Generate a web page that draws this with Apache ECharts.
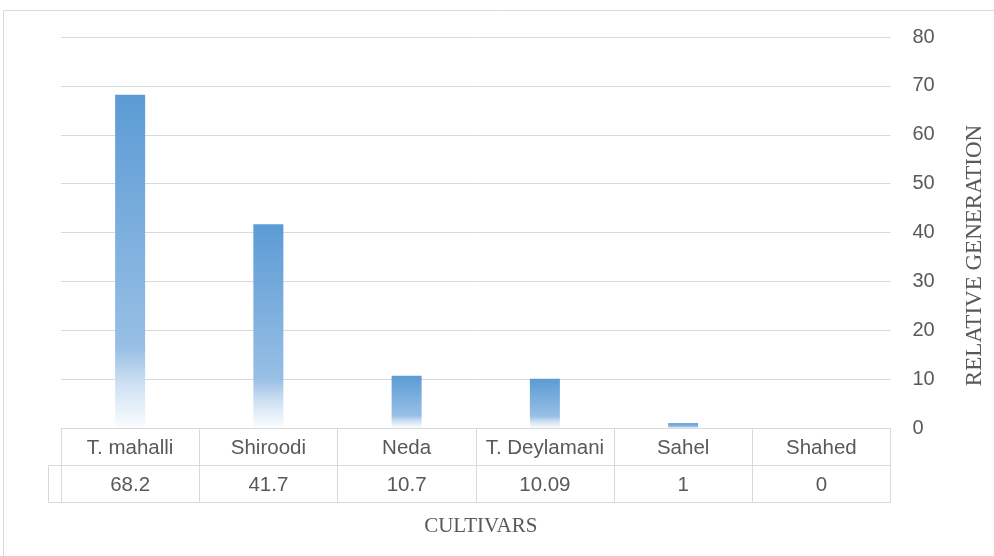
<!DOCTYPE html>
<html>
<head>
<meta charset="utf-8">
<script src="https://cdn.jsdelivr.net/npm/echarts@6/dist/echarts.min.js"></script>
<style>
html,body{margin:0;padding:0;background:#fff;}
#chart{width:994px;height:556px;}
</style>
</head>
<body>
<div id="chart"></div>
<script>
const categories = ['T. mahalli', 'Shiroodi', 'Neda', 'T. Deylamani', 'Sahel', 'Shahed'];
const values = [68.2, 41.7, 10.7, 10.09, 1, 0];
const yTicks = { min: 0, max: 80, interval: 10 };
const xTitle = 'CULTIVARS';
const yTitle = 'RELATIVE GENERATION';

const chart = echarts.init(document.getElementById('chart'), null, { renderer: 'canvas' });
const border = '#d9d9d9';
const textColor = '#595959';
const sans = 'Liberation Sans';
const serif = 'Liberation Serif';

chart.setOption({
  animation: false,
  backgroundColor: '#ffffff',
  grid: { left: 61, right: 103, top: 37, bottom: 128, containLabel: false },
  xAxis: [
    {
      type: 'category', data: categories, position: 'bottom',
      axisLine: { show: true, lineStyle: { color: border, width: 1 } },
      axisTick: { show: true, length: 74, alignWithLabel: false, lineStyle: { color: border, width: 1 } },
      axisLabel: { margin: 20, verticalAlign: 'middle', fontFamily: sans, fontSize: 20.5, color: textColor, interval: 0 },
      splitLine: { show: false }
    },
    {
      type: 'category', data: categories, position: 'bottom', offset: 37,
      axisLine: { show: true, lineStyle: { color: border, width: 1 } },
      axisTick: { show: false },
      axisLabel: { margin: 20, verticalAlign: 'middle', fontFamily: sans, fontSize: 20.5, color: textColor, interval: 0,
        formatter: (v, i) => String(values[i]) },
      splitLine: { show: false }
    },
    {
      type: 'category', data: categories, position: 'bottom', offset: 74,
      axisLine: { show: true, lineStyle: { color: border, width: 1 } },
      axisTick: { show: false },
      axisLabel: { show: false },
      name: xTitle, nameLocation: 'middle', nameGap: 24,
      nameTextStyle: { fontFamily: serif, fontSize: 21, color: textColor, verticalAlign: 'middle', padding: [0, 0, 0, 10] }
    }
  ],
  yAxis: {
    type: 'value', position: 'right',
    min: yTicks.min, max: yTicks.max, interval: yTicks.interval,
    axisLine: { show: false }, axisTick: { show: false },
    axisLabel: { margin: 22, fontFamily: sans, fontSize: 20, color: textColor },
    splitLine: { show: true, lineStyle: { color: border, width: 1 } },
    name: yTitle, nameLocation: 'middle', nameRotate: 90, nameGap: 84,
    nameTextStyle: { fontFamily: serif, fontSize: 23, color: textColor, verticalAlign: 'middle', padding: [0, 46, 0, 0] }
  },
  series: [{
    type: 'bar',
    data: values,
    barWidth: 30,
    itemStyle: {
      color: new echarts.graphic.LinearGradient(0, 0, 0, 1, [
        { offset: 0, color: '#5b9bd5' },
        { offset: 0.76, color: '#98bfe5' },
        { offset: 0.87, color: '#cfe1f3' },
        { offset: 1, color: '#fbfdff' }
      ])
    }
  }],
  graphic: [
    { type: 'rect', silent: true, z: -1,
      shape: { x: 3.5, y: 10.5, width: 1100, height: 700 },
      style: { fill: 'none', stroke: border, lineWidth: 1 } },
    { type: 'polyline', silent: true,
      shape: { points: [[61, 465.5], [48.5, 465.5], [48.5, 502.5], [61, 502.5]] },
      style: { fill: 'none', stroke: border, lineWidth: 1 } }
  ]
});
</script>
</body>
</html>
